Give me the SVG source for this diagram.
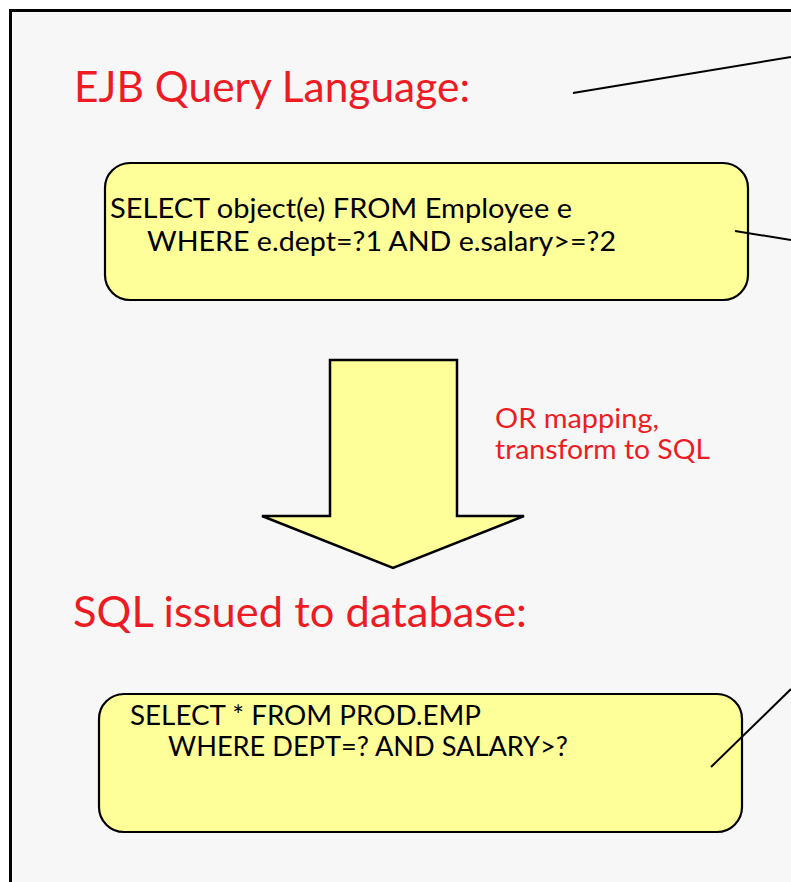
<svg xmlns="http://www.w3.org/2000/svg" width="791" height="882" viewBox="0 0 791 882">
<style>
.title{font-family:Lato,"Open Sans",sans-serif;fill:#ed1c24;font-size:43px}
.note{font-family:Lato,"Open Sans",sans-serif;fill:#ed1c24;font-size:27px}
.code{font-family:Lato,"Open Sans",sans-serif;fill:#000;font-size:27px}
.code2{font-family:Lato,"Open Sans",sans-serif;fill:#000;font-size:26px}
.box{fill:#ffff99;stroke:#000;stroke-width:2.2}
.conn{stroke:#000;stroke-width:2;fill:none}
</style>
<rect x="0" y="0" width="791" height="882" fill="#ffffff"/>
<rect x="10.5" y="10.5" width="900" height="1000" fill="#f7f7f7" stroke="#000" stroke-width="3"/>
<g id="title-ejb">
<text class="title" x="74" y="102" textLength="396" lengthAdjust="spacingAndGlyphs">EJB Query Language:</text>
</g>
<g id="ejb-query">
<rect class="box" x="105" y="163" width="643" height="137" rx="25" ry="25"/>
<text class="code" x="110" y="218" textLength="462" lengthAdjust="spacingAndGlyphs">SELECT object(e) FROM Employee e</text>
<text class="code" x="147" y="251" textLength="469" lengthAdjust="spacingAndGlyphs">WHERE e.dept=?1 AND e.salary&gt;=?2</text>
</g>
<g id="transform-arrow">
<polygon points="330,360 457,360 457,516 524,516 393,568 262,516 330,516" fill="#ffff99" stroke="#000" stroke-width="2.5" stroke-linejoin="miter"/>
</g>
<g id="or-mapping-label">
<text class="note" x="495" y="428" textLength="164" lengthAdjust="spacingAndGlyphs">OR mapping,</text>
<text class="note" x="495" y="459" textLength="215" lengthAdjust="spacingAndGlyphs">transform to SQL</text>
</g>
<g id="title-sql">
<text class="title" x="73" y="627" textLength="454" lengthAdjust="spacingAndGlyphs">SQL issued to database:</text>
</g>
<g id="sql-query">
<rect class="box" x="99" y="694" width="643" height="138" rx="25" ry="25"/>
<text class="code2" x="130" y="725" textLength="351" lengthAdjust="spacingAndGlyphs">SELECT * FROM PROD.EMP</text>
<text class="code2" x="168" y="756" textLength="400" lengthAdjust="spacingAndGlyphs">WHERE DEPT=? AND SALARY&gt;?</text>
</g>
<g id="connectors">
<line class="conn" x1="573" y1="93" x2="791" y2="57"/>
<line class="conn" x1="735" y1="231" x2="791" y2="240"/>
<line class="conn" x1="711" y1="767" x2="791" y2="689"/>
</g>
</svg>
